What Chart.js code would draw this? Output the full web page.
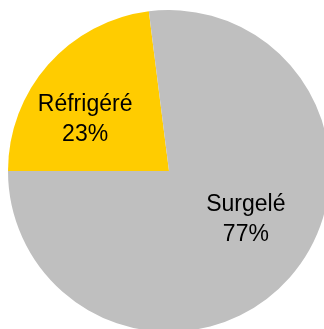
<!DOCTYPE html>
<html>
<head>
<meta charset="utf-8">
<script src="https://cdn.jsdelivr.net/npm/chart.js@4/dist/chart.umd.min.js"></script>
<style>
  html, body { margin: 0; padding: 0; background: #fff; overflow: hidden; width: 324px; height: 329px; }
  #wrap { position: absolute; left: 8px; top: 10px; width: 322px; height: 322px; }
</style>
</head>
<body>
<div id="wrap"><canvas id="chart1"></canvas></div>
<script>
  var categories = ['Réfrigéré', 'Surgelé']
  var valeurs = [23, 77]
  var couleurs = ['#FFCC00', '#BFBFBF']

  // labels au milieu de chaque part
  var etiquettes = {
    id: 'etiquettes',
    afterDatasetsDraw(chart, args, opts) {
      var ctx = chart.ctx
      var meta = chart.getDatasetMeta(0)
      var total = valeurs.reduce(function (a, b) { return a + b }, 0)
      ctx.save()
      ctx.font = '23px "Liberation Sans", Arial, sans-serif'
      ctx.fillStyle = '#000'
      ctx.textAlign = 'center'
      ctx.textBaseline = 'middle'
      meta.data.forEach(function (arc, i) {
        var p = arc.getProps(['x', 'y', 'startAngle', 'endAngle', 'outerRadius'], true)
        var mid = (p.startAngle + p.endAngle) / 2
        var r = p.outerRadius * opts.fraction
        var d = opts.decalage[i]
        var x = p.x + Math.cos(mid) * r + d[0]
        var y = p.y + Math.sin(mid) * r + d[1]
        var pct = Math.round(valeurs[i] / total * 100) + '%'
        ctx.fillText(categories[i], x, y - 15)
        ctx.fillText(pct, x, y + 15)
      })
      ctx.restore()
    }
  }

  const config = {
    type: 'pie',
    data: {
      labels: categories,
      datasets: [{
        data: valeurs,
        backgroundColor: couleurs,
        borderWidth: 0
      }]
    },
    options: {
      responsive: true,
      maintainAspectRatio: false,
      animation: false,
      rotation: 270,
      layout: { padding: 0 },
      plugins: {
        legend: { display: false },
        tooltip: { enabled: false },
        etiquettes: { fraction: 0.62, decalage: [[-9, 15], [2, -17]] }
      }
    },
    plugins: [etiquettes]
  }

  const myChart = new Chart(document.getElementById('chart1'), config)
</script>
</body>
</html>
